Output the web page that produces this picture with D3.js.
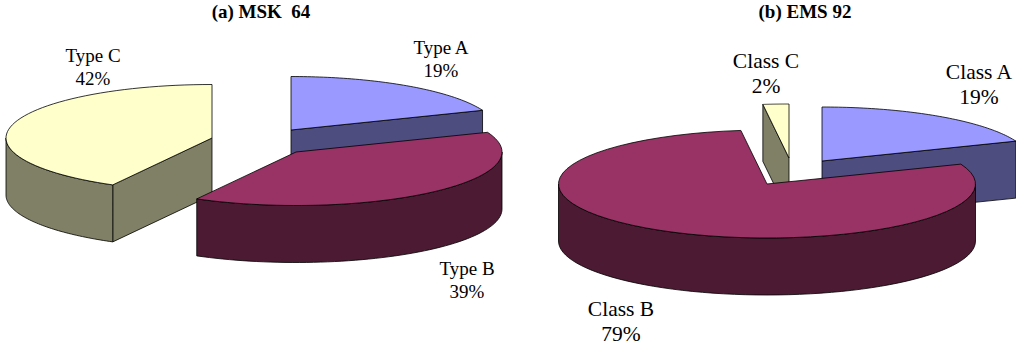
<!DOCTYPE html>
<html>
<head>
<meta charset="utf-8">
<script src="https://cdn.jsdelivr.net/npm/d3@7"></script>
<style>
  html, body { margin: 0; padding: 0; background: #fff; }
  svg { display: block; }
  text { font-family: "Liberation Serif", "Times New Roman", serif; fill: #000; }
</style>
</head>
<body>
<svg id="chart" width="1016" height="345"></svg>
<script>
const typeNames = ["Type A", "Type B", "Type C"];
const typeValues = [19, 39, 42];
const classNames = ["Class A", "Class B", "Class C"];
const classValues = [19, 79, 2];

const topColors = ["#9999ff", "#993366", "#ffffcc"];
const sideColors = ["#4d4d80", "#4d1a33", "#808066"];

// the big wedge has to sit on top of its exploded neighbours
const drawOrder = [0, 2, 1];

const panels = [
    {
        title: "(a) MSK  64", titleX: 261, titleY: 18,
        names: typeNames, values: typeValues,
        rx: 206, ry: 53.5, depth: 57, fontSize: 19, lineGap: 23,
        centers: [[291, 130], [296, 152], [212, 138]],
        labels: [[441, 54], [467, 275], [93, 62]]
    },
    {
        title: "(b) EMS 92", titleX: 805, titleY: 18,
        names: classNames, values: classValues,
        rx: 208.5, ry: 54, depth: 57, fontSize: 21.5, lineGap: 25,
        centers: [[822, 161], [767, 184], [789, 158]],
        labels: [[979, 79], [621, 316], [766, 68]]
    }
];

const svg = d3.select("#chart");
const pie = d3.pie().sort(null).value(d => d);
const outline = d3.line().curve(d3.curveLinearClosed);

function drawPie(panel) {
    const g = svg.append("g");
    const slices = pie(panel.values);

    drawOrder.forEach(i => {
        const s = slices[i];
        const [cx, cy] = panel.centers[i];
        const x = a => cx + panel.rx * Math.sin(a);
        const y = a => cy - panel.ry * Math.cos(a);
        const d = panel.depth;

        const face = pts => g.append("path")
            .attr("d", outline(pts))
            .attr("fill", sideColors[i])
            .attr("stroke", "#000")
            .attr("stroke-width", 0.8)
            .attr("stroke-linejoin", "round");

        // sample an arc of the rim between two angles
        const arcPoints = (a0, a1) => d3.range(0, 61).map(k => a0 + (a1 - a0) * k / 60);

        // flat cut faces, only when they turn towards the viewer
        if (Math.sin(s.startAngle) < -1e-6) {
            const a = s.startAngle;
            face([[cx, cy], [x(a), y(a)], [x(a), y(a) + d], [cx, cy + d]]);
        }
        if (Math.sin(s.endAngle) > 1e-6) {
            const a = s.endAngle;
            face([[cx, cy], [x(a), y(a)], [x(a), y(a) + d], [cx, cy + d]]);
        }

        // outer wall is visible on the front half only
        const r0 = Math.max(s.startAngle, Math.PI / 2);
        const r1 = Math.min(s.endAngle, 3 * Math.PI / 2);
        if (r1 > r0) {
            const angles = arcPoints(r0, r1);
            face(angles.map(a => [x(a), y(a)])
                .concat(angles.slice().reverse().map(a => [x(a), y(a) + d])));
        }

        // top of the wedge
        const top = arcPoints(s.startAngle, s.endAngle).map(a => [x(a), y(a)]);
        g.append("path")
            .attr("d", outline([[cx, cy]].concat(top)))
            .attr("fill", topColors[i])
            .attr("stroke", "#000")
            .attr("stroke-width", 0.8)
            .attr("stroke-linejoin", "round");
    });

    g.append("text")
        .attr("x", panel.titleX)
        .attr("y", panel.titleY)
        .attr("text-anchor", "middle")
        .attr("font-size", 19)
        .attr("font-weight", "bold")
        .attr("xml:space", "preserve")
        .style("white-space", "pre")
        .text(panel.title);

    panel.names.forEach((name, i) => {
        const [lx, ly] = panel.labels[i];
        const label = g.append("text")
            .attr("text-anchor", "middle")
            .attr("font-size", panel.fontSize);
        label.append("tspan").attr("x", lx).attr("y", ly).text(name);
        label.append("tspan").attr("x", lx).attr("y", ly + panel.lineGap).text(panel.values[i] + "%");
    });
}

panels.forEach(drawPie);
</script>
</body>
</html>
